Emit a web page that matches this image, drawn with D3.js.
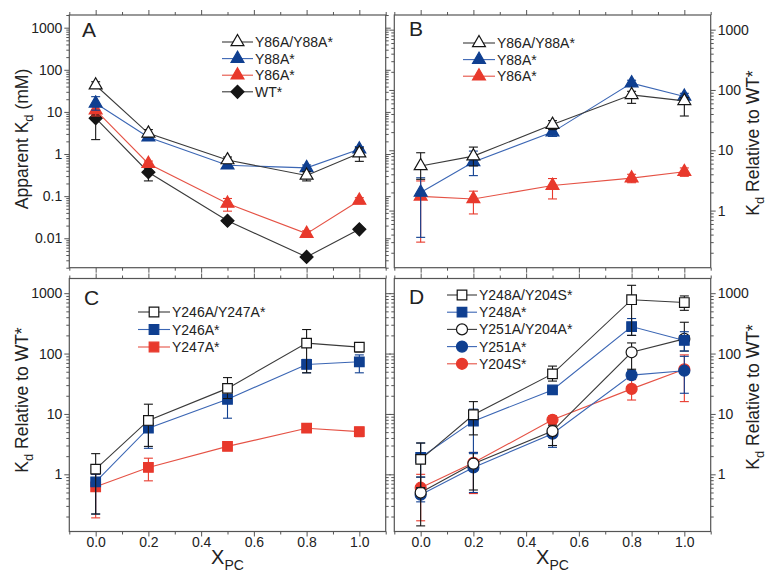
<!DOCTYPE html>
<html>
<head>
<meta charset="utf-8">
<script src="https://cdn.jsdelivr.net/npm/d3@7"></script>
<style>
  body { margin: 0; background: #fff; }
  text { font-family: "Liberation Sans", Arial, sans-serif; fill: #222; }
</style>
</head>
<body>
<svg id="chart" width="766" height="574"></svg>
<script>
// x positions (mole fraction PC) shared by all panels
const xpc = [0, 0.2, 0.5, 0.8, 1.0];
const xTickVals = [0, 0.2, 0.4, 0.6, 0.8, 1.0];
const yTickVals = [0.01, 0.1, 1, 10, 100, 1000];

// Panel A: apparent Kd (mM)
const aNames = ["Y86A/Y88A*", "Y88A*", "Y86A*", "WT*"];
const aY86AY88A = [43, 3.1, 0.72, 0.31, 1.05];
const aY86AY88ALo = [37, 2.6, 0.6, 0.23, 0.67];
const aY86AY88AHi = [52, 3.8, 0.85, 0.38, 1.4];
const aY88A = [16, 2.5, 0.54, 0.47, 1.3];
const aY88ALo = [11, 2.2, 0.47, 0.4, 1.1];
const aY88AHi = [23, 2.9, 0.62, 0.55, 1.5];
const aY86A = [11, 0.59, 0.067, 0.0129, 0.079];
const aY86ALo = [8, 0.5, 0.044, 0.0105, 0.066];
const aY86AHi = [14, 0.68, 0.088, 0.015, 0.092];
const aWT = [7.1, 0.37, 0.026, 0.0036, 0.0163];
const aWTLo = [2.2, 0.23, 0.023, 0.0032, 0.0145];
const aWTHi = [8.5, 0.51, 0.029, 0.004, 0.018];

// Panel B: Kd relative to WT*
const bNames = ["Y86A/Y88A*", "Y88A*", "Y86A*"];
const bY86AY88A = [5.5, 8.0, 26.7, 83, 66];
const bY86AY88ALo = [3.3, 5.5, 22, 60, 37];
const bY86AY88AHi = [9.1, 11.3, 31, 95, 75];
const bY88A = [2.0, 6.4, 20, 130, 78];
const bY88ALo = [0.36, 3.8, 17, 115, 68];
const bY88AHi = [3.5, 9.7, 23, 145, 88];
const bY86A = [1.72, 1.56, 2.6, 3.45, 4.4];
const bY86ALo = [0.3, 0.88, 1.56, 2.9, 3.7];
const bY86AHi = [3.1, 2.1, 3.4, 4.0, 5.1];

// Panel C
const cNames = ["Y246A/Y247A*", "Y246A*", "Y247A*"];
const cY246AY247A = [1.22, 7.8, 26.5, 149, 128];
const cY246AY247ALo = [0.22, 2.9, 18, 48, 106];
const cY246AY247AHi = [2.2, 14.5, 40, 250, 145];
const cY246A = [0.75, 5.8, 17.5, 66, 73];
const cY246ALo = [0.22, 2.7, 8.5, 48, 48];
const cY246AHi = [1.0, 8.5, 25, 80, 95];
const cY247A = [0.62, 1.3, 2.9, 5.8, 5.1];
const cY247ALo = [0.19, 0.78, 2.6, 5.2, 4.2];
const cY247AHi = [1.0, 1.85, 3.2, 6.4, 6.0];

// Panel D
const dNames = ["Y248A/Y204S*", "Y248A*", "Y251A/Y204A*", "Y251A*", "Y204S*"];
const dY248AY204S = [1.77, 9.7, 46, 780, 700];
const dY248AY204SLo = [0.6, 4.5, 35, 200, 520];
const dY248AY204SHi = [3.3, 16, 62, 1350, 900];
const dY248A = [1.9, 7.6, 25, 280, 165];
const dY248ALo = [0.9, 2.3, 22, 200, 110];
const dY248AHi = [3.3, 12, 28, 380, 230];
const dY251AY204A = [0.5, 1.5, 5.2, 105, 175];
const dY251AY204ALo = [0.14, 0.55, 3.0, 55, 110];
const dY251AY204AHi = [0.9, 2.3, 6.5, 150, 330];
const dY251A = [0.46, 1.3, 4.7, 44, 52];
const dY251ALo = [0.35, 0.5, 2.8, 38, 22];
const dY251AHi = [0.6, 2.2, 6.0, 52, 90];
const dY204S = [0.6, 1.55, 8.0, 26, 55];
const dY204SLo = [0.17, 0.48, 6.8, 17, 16];
const dY204SHi = [1.0, 2.3, 9.3, 37, 95];

const blk = "#151515", blu = "#0f3f90", red = "#e8392c";
const lineK = "#3a3a3a", lineB = "#3b66b4", lineR = "#e55245";
const frameCol = "#555";

const svg = d3.select("#chart");

function ser(name, v, lo, hi, sym, col, fill, line) {
  return { name, v, lo, hi, sym, col, fill, line };
}

const panels = [
  {
    letter: "A", x0: 69.3, x1: 385.7, y0: 15, y1: 267.7, yDomain: [0.002, 2000],
    leftLabels: true, rightLabels: false, xLabels: false,
    legend: { lx0: 222, lx1: 253, ty: 42, dy: 16.6 }, letterPos: [82, 37],
    series: [
      ser(aNames[0], aY86AY88A, aY86AY88ALo, aY86AY88AHi, "tri", blk, "#fff", lineK),
      ser(aNames[1], aY88A, aY88ALo, aY88AHi, "tri", blu, blu, lineB),
      ser(aNames[2], aY86A, aY86ALo, aY86AHi, "tri", red, red, lineR),
      ser(aNames[3], aWT, aWTLo, aWTHi, "dia", blk, blk, lineK)
    ]
  },
  {
    letter: "B", x0: 394.3, x1: 710.7, y0: 15, y1: 267.7, yDomain: [0.113, 1750],
    leftLabels: false, rightLabels: true, xLabels: false,
    legend: { lx0: 463, lx1: 495, ty: 43, dy: 16.6 }, letterPos: [409, 36],
    series: [
      ser(bNames[0], bY86AY88A, bY86AY88ALo, bY86AY88AHi, "tri", blk, "#fff", lineK),
      ser(bNames[1], bY88A, bY88ALo, bY88AHi, "tri", blu, blu, lineB),
      ser(bNames[2], bY86A, bY86ALo, bY86AHi, "tri", red, red, lineR)
    ]
  },
  {
    letter: "C", x0: 69.3, x1: 385.7, y0: 278.5, y1: 531.5, yDomain: [0.113, 1750],
    leftLabels: true, rightLabels: false, xLabels: true,
    legend: { lx0: 138, lx1: 170, ty: 312, dy: 17.5 }, letterPos: [84, 305],
    series: [
      ser(cNames[0], cY246AY247A, cY246AY247ALo, cY246AY247AHi, "sq", blk, "#fff", lineK),
      ser(cNames[1], cY246A, cY246ALo, cY246AHi, "sq", blu, blu, lineB),
      ser(cNames[2], cY247A, cY247ALo, cY247AHi, "sq", red, red, lineR)
    ]
  },
  {
    letter: "D", x0: 394.3, x1: 710.7, y0: 278.5, y1: 531.5, yDomain: [0.113, 1750],
    leftLabels: false, rightLabels: true, xLabels: true,
    legend: { lx0: 447, lx1: 477, ty: 295, dy: 17.2 }, letterPos: [409, 304],
    series: [
      ser(dNames[0], dY248AY204S, dY248AY204SLo, dY248AY204SHi, "sq", blk, "#fff", lineK),
      ser(dNames[1], dY248A, dY248ALo, dY248AHi, "sq", blu, blu, lineB),
      ser(dNames[2], dY251AY204A, dY251AY204ALo, dY251AY204AHi, "circ", blk, "#fff", lineK),
      ser(dNames[3], dY251A, dY251ALo, dY251AHi, "circ", blu, blu, lineB),
      ser(dNames[4], dY204S, dY204SLo, dY204SHi, "circ", red, red, lineR)
    ]
  }
];

function symbolPath(sym) {
  if (sym === "tri") return d3.symbol(d3.symbolTriangle, 72)();
  if (sym === "sq") return d3.symbol(d3.symbolSquare, 92)();
  if (sym === "circ") return d3.symbol(d3.symbolCircle, 95)();
  return d3.symbol(d3.symbolSquare, 84)();
}

function drawMarker(g, s, cx, cy) {
  g.append("path")
    .attr("d", symbolPath(s.sym))
    .attr("transform", "translate(" + cx + "," + cy + ")" + (s.sym === "dia" ? " rotate(45)" : ""))
    .attr("fill", s.fill)
    .attr("stroke", s.col)
    .attr("stroke-width", 1.2);
}

function styleAxis(ax) {
  ax.select(".domain").remove();
  ax.selectAll(".tick line").attr("stroke", frameCol);
  ax.attr("font-family", null).attr("font-size", 14);
  ax.selectAll("text").attr("fill", "#222");
}

panels.forEach(p => {
  const x = d3.scaleLinear().domain([-0.1, 1.1]).range([p.x0, p.x1]);
  const y = d3.scaleLog().domain(p.yDomain).range([p.y1, p.y0]);
  const g = svg.append("g");

  const majors = yTickVals.filter(v => v >= p.yDomain[0] && v <= p.yDomain[1]);
  const minors = [];
  for (let e = -3; e <= 3; e++) {
    for (let k = 2; k <= 9; k++) {
      const v = k * Math.pow(10, e);
      if (v >= p.yDomain[0] && v <= p.yDomain[1]) minors.push(v);
    }
  }
  const xMinors = d3.range(-0.1, 1.11, 0.2).map(v => +v.toFixed(1));

  const yfmt = d => String(d);
  // y axes, major + minor on both sides
  [["left", p.x0, p.leftLabels], ["right", p.x1, p.rightLabels]].forEach(([side, px, lab]) => {
    const mk = side === "left" ? d3.axisLeft : d3.axisRight;
    g.append("g").attr("transform", "translate(" + px + ",0)")
      .call(mk(y).tickValues(minors).tickSize(3).tickFormat(""))
      .call(styleAxis);
    g.append("g").attr("transform", "translate(" + px + ",0)")
      .call(mk(y).tickValues(majors).tickSize(5).tickPadding(2).tickFormat(lab ? yfmt : ""))
      .call(styleAxis);
  });
  // x axes top and bottom
  [["top", p.y0, false], ["bottom", p.y1, p.xLabels]].forEach(([side, py, lab]) => {
    const mk = side === "top" ? d3.axisTop : d3.axisBottom;
    g.append("g").attr("transform", "translate(0," + py + ")")
      .call(mk(x).tickValues(xMinors).tickSize(3).tickFormat(""))
      .call(styleAxis);
    g.append("g").attr("transform", "translate(0," + py + ")")
      .call(mk(x).tickValues(xTickVals).tickSize(5).tickPadding(1).tickFormat(lab ? d3.format(".1f") : ""))
      .call(styleAxis);
  });

  g.append("rect")
    .attr("x", p.x0).attr("y", p.y0)
    .attr("width", p.x1 - p.x0).attr("height", p.y1 - p.y0)
    .attr("fill", "none").attr("stroke", frameCol).attr("stroke-width", 1.2);

  g.append("text")
    .attr("x", p.letterPos[0]).attr("y", p.letterPos[1])
    .attr("font-size", 21)
    .text(p.letter);

  const line = d3.line().x((d, i) => x(xpc[i])).y(d => y(d));
  const plot = g.append("g");
  p.series.slice().reverse().forEach(s => {
    plot.append("path")
      .attr("d", line(s.v))
      .attr("fill", "none")
      .attr("stroke", s.line)
      .attr("stroke-width", 1.1);
    s.v.forEach((v, i) => {
      const cx = x(xpc[i]);
      const eb = plot.append("g").attr("stroke", s.col).attr("stroke-width", 1.1);
      eb.append("line").attr("x1", cx).attr("x2", cx).attr("y1", y(s.lo[i])).attr("y2", y(s.hi[i]));
      [s.lo[i], s.hi[i]].forEach(e => {
        eb.append("line").attr("x1", cx - 4.5).attr("x2", cx + 4.5).attr("y1", y(e)).attr("y2", y(e));
      });
    });
    s.v.forEach((v, i) => drawMarker(plot, s, x(xpc[i]), y(v)));
  });

  // legend
  const lg = g.append("g");
  p.series.forEach((s, i) => {
    const ly = p.legend.ty + i * p.legend.dy;
    lg.append("line")
      .attr("x1", p.legend.lx0).attr("x2", p.legend.lx1)
      .attr("y1", ly).attr("y2", ly)
      .attr("stroke", s.line).attr("stroke-width", 1.1);
    drawMarker(lg, s, (p.legend.lx0 + p.legend.lx1) / 2, ly);
    lg.append("text")
      .attr("x", p.legend.lx1 + 2).attr("y", ly).attr("dy", "0.36em")
      .attr("font-size", 14)
      .text(s.name);
  });

  // x axis title
  if (p.xLabels) {
    const t = g.append("text")
      .attr("x", x(0.5)).attr("y", 564)
      .attr("text-anchor", "middle");
    t.append("tspan").attr("font-size", 20).text("X");
    t.append("tspan").attr("font-size", 14).attr("dy", 6).text("PC");
  }
});

function yTitle(cx, cy, parts) {
  const t = svg.append("text")
    .attr("transform", "translate(" + cx + "," + cy + ") rotate(-90)")
    .attr("text-anchor", "middle")
    .attr("font-size", 17.5);
  t.append("tspan").text(parts[0]);
  t.append("tspan").attr("font-size", 13).attr("dy", 5).text("d");
  t.append("tspan").attr("dy", -5).text(parts[1]);
}

yTitle(28, 139, ["Apparent K", " (mM)"]);
yTitle(28, 400, ["K", " Relative to WT*"]);
yTitle(759, 143, ["K", " Relative to WT*"]);
yTitle(759, 397, ["K", " Relative to WT*"]);
</script>
</body>
</html>
